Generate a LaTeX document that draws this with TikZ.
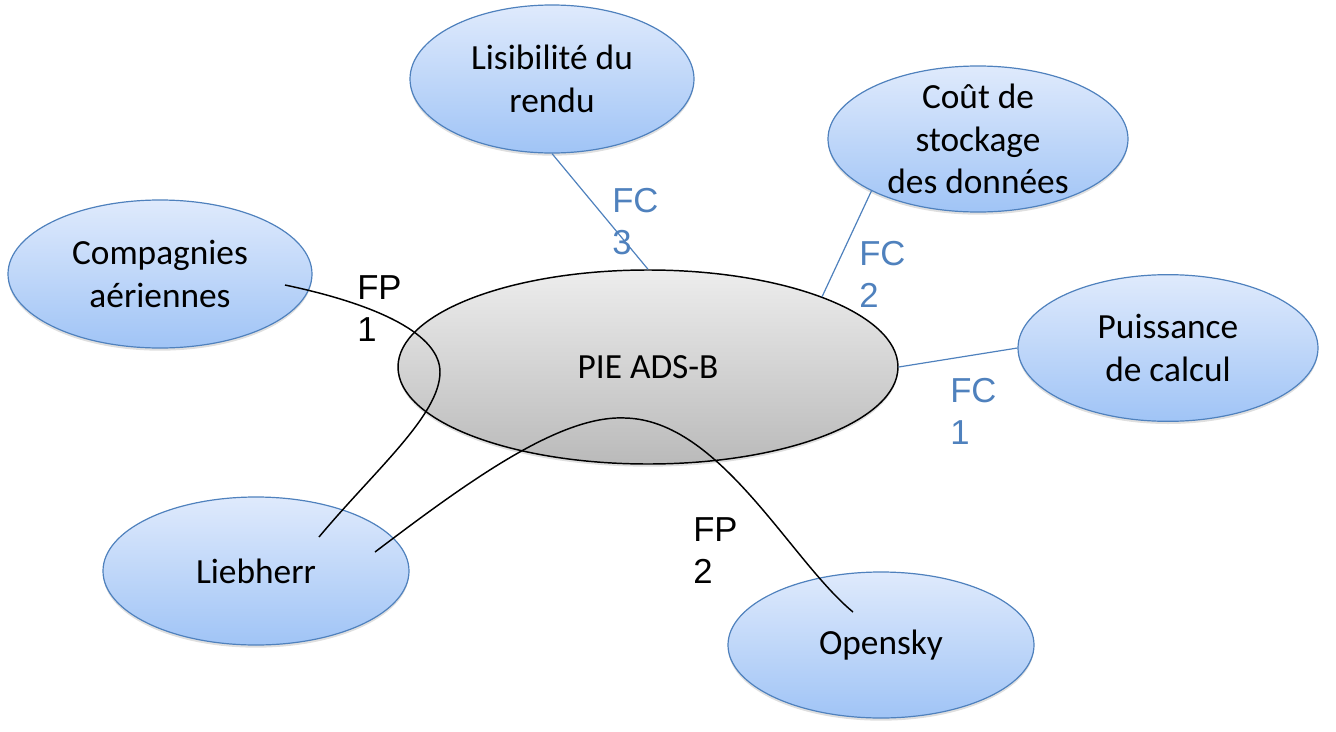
\documentclass[tikz,border=0pt]{standalone}
\usepackage{fontspec}
\setmainfont{Carlito}
\newfontfamily\arialfont{Liberation Sans}
\usetikzlibrary{shapes.geometric, shadows}

\definecolor{bubbletop}{RGB}{223,234,252}
\definecolor{bubblebot}{RGB}{160,196,246}
\definecolor{bubbleline}{RGB}{79,129,189}
\definecolor{pietop}{RGB}{237,237,237}
\definecolor{piebot}{RGB}{186,186,186}

\tikzset{
  bubble/.style={ellipse, draw=bubbleline, line width=0.9pt,
    top color=bubbletop, bottom color=bubblebot,
    inner sep=-30pt, minimum width=228pt, minimum height=111pt,
    align=center, font=\fontsize{26.5}{32}\selectfont,
    drop shadow={shadow xshift=0pt, shadow yshift=-2pt, fill=black!50, opacity=0.25}},
  pienode/.style={bubble, draw=black, line width=1.1pt,
    top color=pietop, bottom color=piebot,
    minimum width=375pt, minimum height=145.5pt},
  fclabel/.style={anchor=north west, inner sep=0pt, align=left,
    text=bubbleline, font=\arialfont\fontsize{26}{31.5}\selectfont},
  fplabel/.style={fclabel, text=black},
  fcline/.style={draw=bubbleline, line width=0.9pt},
  fpcurve/.style={draw=black, line width=1.1pt},
}

\begin{document}
\begin{tikzpicture}[x=0.75pt, y=-0.75pt]
  \useasboundingbox (0,0) rectangle (1336,732);

  % central product and surrounding elements
  \node[pienode] (pie) at (648,367) {PIE ADS-B};
  \node[bubble] (comp) at (160,274) {Compagnies\\aériennes};
  \node[bubble, minimum width=213pt] (lis) at (552,79) {Lisibilité du\\rendu};
  \node[bubble, minimum width=225pt, minimum height=109.5pt] (cout) at (978,139) {Coût de\\stockage\\des données};
  \node[bubble, minimum width=225pt, minimum height=110pt] (pui) at (1168,348) {Puissance\\de calcul};
  \node[bubble, minimum width=229.5pt] (lieb) at (256,571) {Liebherr};
  \node[bubble, minimum width=229.5pt, minimum height=109.5pt] (open) at (881,645) {Opensky};

  % constraint functions
  \draw[fcline] (lis.south) -- (pie.north);
  \draw[fcline] (cout.206) -- (pie.22);
  \draw[fcline] (pie.east) -- (pui.west);

  \node[fclabel] (fc3) at (612,188) {FC\\3};
  \node[fclabel] (fc2) at (859,241) {FC\\2};
  \node[fclabel] (fc1) at (950,378) {FC\\1};

  % principal functions
  \coordinate (fp1start) at (285,285);
  \coordinate (fp1end) at (319,537);
  \coordinate (fp2start) at (375,552);
  \coordinate (fp2end) at (853,612);

  \draw[fpcurve] (fp1start) .. controls (380,305) and (440,335) .. (440,372)
    .. controls (440,415) and (375,470) .. (fp1end);
  \draw[fpcurve] (fp2start) .. controls (470,480) and (560,415) .. (625,418)
    .. controls (720,420) and (790,560) .. (fp2end);

  \node[fplabel] (fp1) at (357,275) {FP\\1};
  \node[fplabel] (fp2) at (693,517) {FP\\2};
\end{tikzpicture}
\end{document}
